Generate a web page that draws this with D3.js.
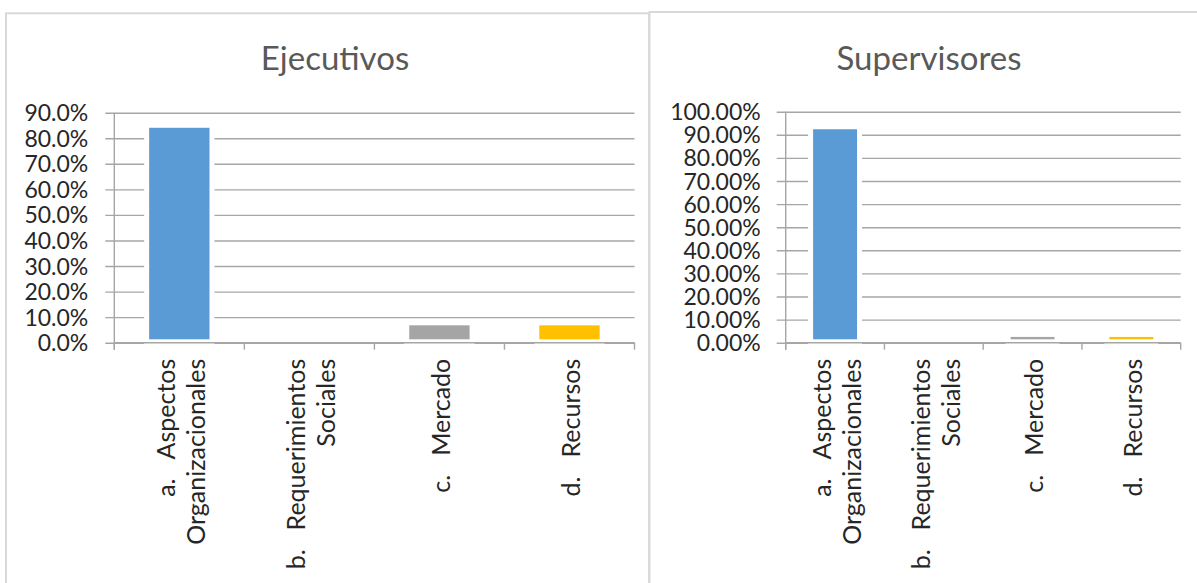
<!DOCTYPE html>
<html>
<head>
<meta charset="utf-8">
<script src="https://cdn.jsdelivr.net/npm/d3@7"></script>
<style>
  body { margin: 0; background: #fff; }
  svg { display: block; font-family: Lato, "Open Sans", sans-serif; }
</style>
</head>
<body>
<div id="chart"></div>
<script>
// data
const catLetters = ["a.", "b.", "c.", "d."];
const catLines = [["Aspectos", "Organizacionales"], ["Requerimientos", "Sociales"], ["Mercado"], ["Recursos"]];
const barColors = ["#5B9BD5", "#ED7D31", "#A5A5A5", "#FFC000"];

const ejecutivosValues = [0.841, 0, 0.068, 0.068];
const ejecutivosTicks = [0, 0.1, 0.2, 0.3, 0.4, 0.5, 0.6, 0.7, 0.8, 0.9];

const supervisoresValues = [0.924, 0, 0.025, 0.025];
const supervisoresTicks = [0, 0.1, 0.2, 0.3, 0.4, 0.5, 0.6, 0.7, 0.8, 0.9, 1.0];

const W = 1197, H = 583;
const svg = d3.select("#chart").append("svg")
    .attr("width", W)
    .attr("height", H);

// panel frames
svg.append("rect").attr("x", 6).attr("y", 13.3).attr("width", 643).attr("height", 600)
    .attr("fill", "#fff").attr("stroke", "#d9d9d9").attr("stroke-width", 2);
svg.append("rect").attr("x", 649.5).attr("y", 12).attr("width", 600).attr("height", 600)
    .attr("fill", "#fff").attr("stroke", "#d9d9d9").attr("stroke-width", 2);

function drawChart(opt) {
    const g = svg.append("g");
    const x = d3.scaleBand().domain(d3.range(catLetters.length)).range([opt.x0, opt.x1]);
    const y = d3.scaleLinear().domain([0, opt.max]).range([opt.y0, opt.y1]);
    const fmt = d3.format(opt.fmt);

    g.append("text")
        .attr("x", opt.titleX).attr("y", 70)
        .attr("text-anchor", "middle")
        .attr("fill", "#595959")
        .style("font-size", "33px")
        .text(opt.title);

    // gridlines with the little tick to the left of the axis
    const yAxis = d3.axisLeft(y).tickValues(opt.ticks)
        .tickSize(-(opt.x1 - opt.x0) - 9)
        .tickFormat(fmt);
    const ya = g.append("g").attr("transform", `translate(${opt.x1},0)`).call(yAxis);
    ya.select(".domain").remove();
    ya.selectAll(".tick line").attr("stroke", "#a6a6a6").attr("stroke-width", 1.4)
        .attr("x1", 0).attr("x2", -(opt.x1 - opt.x0) - 9);
    ya.selectAll(".tick text")
        .attr("x", -(opt.x1 - opt.x0) - opt.labelGap)
        .attr("dy", "0.35em")
        .attr("fill", "#262626")
        .style("font-family", "Lato, sans-serif")
        .style("font-size", opt.tickSize + "px");

    // bars (white outline breaks the gridlines like the original)
    g.selectAll("rect.bar")
        .data(opt.values)
        .join("rect")
        .attr("class", "bar")
        .attr("x", (d, i) => x(i) + x.bandwidth() * (1 - opt.barFrac) / 2)
        .attr("width", x.bandwidth() * opt.barFrac)
        .attr("y", d => y(d))
        .attr("height", d => Math.max(0, y(0) - 3.4 - y(d)))
        .attr("fill", (d, i) => barColors[i])
        .attr("stroke", "#fff")
        .attr("stroke-width", d => d > 0 ? 10 : 0);
    // redraw fill on top so the stroke only shows outside
    g.selectAll("rect.barfill")
        .data(opt.values)
        .join("rect")
        .attr("class", "barfill")
        .attr("x", (d, i) => x(i) + x.bandwidth() * (1 - opt.barFrac) / 2)
        .attr("width", x.bandwidth() * opt.barFrac)
        .attr("y", d => y(d))
        .attr("height", d => d > 0 ? Math.max(0, y(0) - 3.4 - y(d)) : 0)
        .attr("fill", (d, i) => barColors[i]);

    // axes lines
    g.append("line")
        .attr("x1", opt.x0).attr("x2", opt.x1)
        .attr("y1", y(0)).attr("y2", y(0))
        .attr("stroke", "#a6a6a6").attr("stroke-width", 1.4);
    g.append("line")
        .attr("x1", opt.x0).attr("x2", opt.x0)
        .attr("y1", y(opt.max)).attr("y2", y(0) + 7)
        .attr("stroke", "#a6a6a6").attr("stroke-width", 1.4);
    const bounds = d3.range(catLetters.length + 1).map(i => opt.x0 + i * x.step());
    g.selectAll("line.ctick")
        .data(bounds)
        .join("line")
        .attr("x1", d => d).attr("x2", d => d)
        .attr("y1", y(0)).attr("y2", y(0) + 7)
        .attr("stroke", "#a6a6a6").attr("stroke-width", 1.4);

    // rotated category labels
    const lineH = 30;
    catLines.forEach((lines, i) => {
        const cx = x(i) + x.bandwidth() / 2 + 2;
        lines.forEach((txt, j) => {
            const lx = cx + (j - (lines.length - 1) / 2) * lineH;
            const t = g.append("text")
                .attr("transform", `translate(${lx},${y(0) + 16}) rotate(-90)`)
                .attr("text-anchor", "end")
                .attr("dy", "0.35em")
                .attr("fill", "#262626")
                .style("font-size", opt.catSize + "px");
            if (j === 0) {
                t.append("tspan").text(catLetters[i]);
                t.append("tspan").attr("dx", 19).text(txt);
            } else {
                t.text(txt);
            }
        });
    });
}

drawChart({
    title: "Ejecutivos", titleX: 335,
    values: ejecutivosValues, ticks: ejecutivosTicks, max: 0.9, fmt: ".1%",
    x0: 114.3, x1: 634.5, y0: 342.7, y1: 112.7,
    barFrac: 0.464, labelGap: 26, tickSize: 23, catSize: 25
});
drawChart({
    title: "Supervisores", titleX: 929,
    values: supervisoresValues, ticks: supervisoresTicks, max: 1.0, fmt: ".2%",
    x0: 785.7, x1: 1180.7, y0: 342.7, y1: 111.7,
    barFrac: 0.445, labelGap: 25, tickSize: 23, catSize: 25
});
</script>
</body>
</html>
